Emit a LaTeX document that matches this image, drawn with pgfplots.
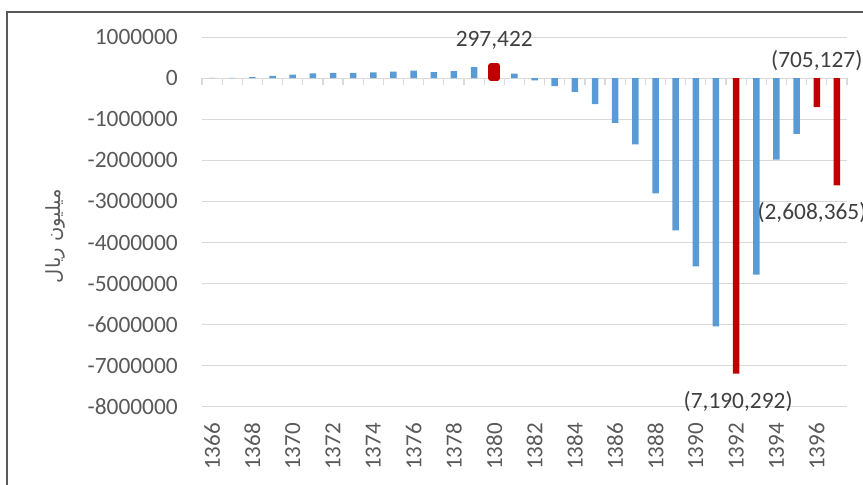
\documentclass[border=0pt]{standalone}
\usepackage{pgfplots}
\pgfplotsset{compat=1.18}
\usepackage{fontspec}
\setmainfont{Carlito}
\newfontfamily\arabicfont[Script=Arabic]{DejaVu Sans}
\TeXXeTstate=1
\definecolor{barblue}{HTML}{5B9BD5}
\definecolor{barred}{HTML}{C00000}
\definecolor{gridgray}{HTML}{D9D9D9}
\definecolor{textgray}{HTML}{595959}
\definecolor{labelgray}{HTML}{404040}
\begin{document}
\begin{tikzpicture}
\path[use as bounding box] (0,0) rectangle (863pt,-485pt);
\clip (0,0) rectangle (863pt,-485pt);
\draw[textgray, line width=1.3pt] (7pt,-530pt) -- (7pt,-12pt) -- (900pt,-12pt);
\node[textgray, rotate=90, inner sep=0pt] at (55pt,-236pt) {\fontsize{19.5}{22}\selectfont\arabicfont\beginR میلیون ریال\endR};
% zero line with tick marks at category boundaries
\begin{axis}[
  at={(202pt,-37pt)}, anchor=north west,
  scale only axis, width=645pt, height=370pt,
  xmin=1365.5, xmax=1397.5, ymin=-8000000, ymax=1000000,
  axis x line=middle, axis y line=none,
  axis line style={gridgray, line width=1.2pt, -},
  xtick={1365.5,1366.5,...,1397.5}, xticklabels={},
  ytick=\empty, scaled y ticks=false,
  xtick style={draw=gridgray, line width=1.2pt, yshift=-3.5pt},
  major tick length=7pt, tick align=center,
]
\end{axis}
\begin{axis}[
  at={(202pt,-37pt)}, anchor=north west,
  scale only axis, width=645pt, height=370pt,
  xmin=1365.5, xmax=1397.5, ymin=-8000000, ymax=1000000,
  clip=false, scaled y ticks=false,
  axis line style={draw=none},
  major tick length=0pt,
  ymajorgrids, grid style={gridgray, line width=1pt},
  ytick={-8000000,-7000000,-6000000,-5000000,-4000000,-3000000,-2000000,-1000000,0,1000000},
  yticklabels={-8000000,-7000000,-6000000,-5000000,-4000000,-3000000,-2000000,-1000000,0,1000000},
  yticklabel style={anchor=east, inner sep=0pt, xshift=-24pt, text=textgray, font=\fontsize{23.4}{28}\selectfont},
  xtick={1366,1368,1370,1372,1374,1376,1378,1380,1382,1384,1386,1388,1390,1392,1394,1396},
  xticklabels={1366,1368,1370,1372,1374,1376,1378,1380,1382,1384,1386,1388,1390,1392,1394,1396},
  xticklabel style={yshift=-16pt, rotate=90, anchor=east, inner sep=0pt, text=textgray, font=\fontsize{23}{28}\selectfont},
  ybar, bar width=6.5pt, bar shift=0pt,
]
\addplot[fill=barblue, draw=none] coordinates {
(1366,3000) (1367,8000) (1368,24000) (1369,57000) (1370,82000) (1371,114000)
(1372,130000) (1373,130000) (1374,140000) (1375,155000) (1376,180000) (1377,147000)
(1378,171000) (1379,265000) (1381,110000) (1382,-55000) (1383,-195000) (1384,-335000)
(1385,-630000) (1386,-1090000) (1387,-1610000) (1388,-2805000) (1389,-3705000)
(1390,-4580000) (1391,-6040000) (1393,-4780000) (1394,-1985000) (1395,-1355000)
};
\addplot[fill=barred, draw=none] coordinates {
(1392,-7190292) (1396,-705127) (1397,-2608365)
};
\addplot[fill=barred, draw=barred, line width=5.4pt, line join=round] coordinates {
(1380,297422)
};
\node[labelgray, inner sep=0pt, font=\fontsize{23.4}{28}\selectfont] at (axis cs:1380,927000) {297,422};
\node[labelgray, inner sep=0pt, font=\fontsize{23.4}{28}\selectfont] at (axis cs:1396,416000) {(705,127)};
\node[labelgray, inner sep=0pt, anchor=west, font=\fontsize{23.4}{28}\selectfont] at (axis cs:1393.05,-3270000) {(2,608,365)};
\node[labelgray, inner sep=0pt, font=\fontsize{23.4}{28}\selectfont] at (axis cs:1392.1,-7870000) {(7,190,292)};
\end{axis}
\end{tikzpicture}
\end{document}
